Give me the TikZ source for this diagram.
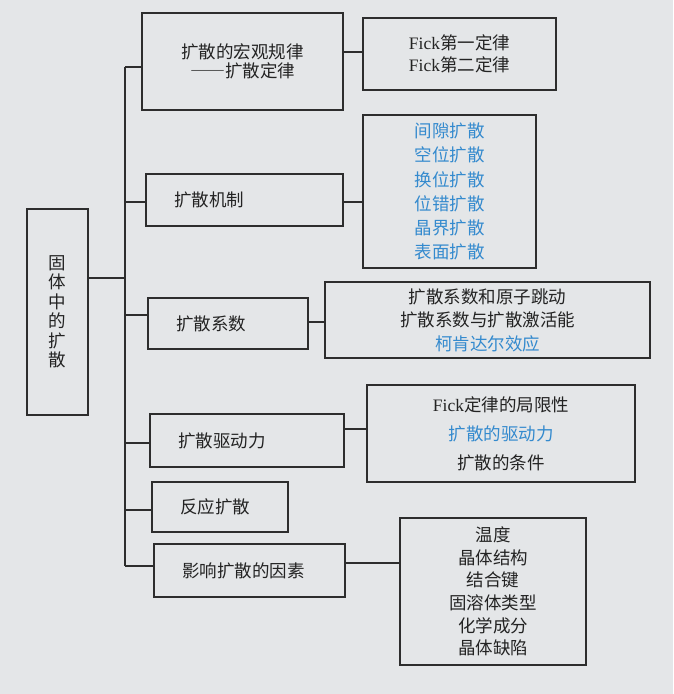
\documentclass[tikz,border=0pt]{standalone}
\usepackage{fontspec}
\setmainfont{Liberation Serif}
\newfontfamily\cjk{Noto Sans CJK SC}
\newfontfamily\cjkfw[RawFeature=+fwid]{Noto Sans CJK SC}
\definecolor{bg}{RGB}{228,230,232}
\definecolor{ln}{RGB}{45,45,45}
\definecolor{bl}{RGB}{52,138,206}
\definecolor{tx}{RGB}{35,35,35}
\begin{document}
\begin{tikzpicture}[x=1pt,y=-1pt,
  box/.style={draw=ln, line width=1.5pt, inner sep=0pt, text=tx,
    font=\cjk\fontsize{17.5}{19.5}\selectfont},
  lbox/.style={box, align=left, inner xsep=28pt},
  cbox/.style={box, align=center},
  conn/.style={draw=ln, line width=1.1pt}]
\fill[bg] (0,0) rectangle (673,694);
\useasboundingbox (0,0) rectangle (673,694);

% root
\node[box, minimum width=61pt, minimum height=206pt, align=center,
  font=\cjk\fontsize{17.5}{19.5}\selectfont] (root) at (57.5,312)
  {固\\体\\中\\的\\扩\\散};

% level-1 boxes
\node[cbox, minimum width=201pt, minimum height=97pt] (b1) at (242.5,61.5)
  {扩散的宏观规律\\{\cjkfw ——}扩散定律};
\node[lbox, text width=141pt, minimum height=52pt] (b2) at (244.5,200) {扩散机制};
\node[lbox, text width=104pt, minimum height=51pt] (b3) at (228,323.5) {扩散系数};
\node[lbox, text width=138pt, minimum height=53pt] (b4) at (247,440.5) {扩散驱动力};
\node[lbox, text width=80pt, minimum height=50pt] (b5) at (220,507) {反应扩散};
\node[lbox, text width=135pt, minimum height=53pt] (b6) at (249.5,570.5) {影响扩散的因素};

% level-2 boxes
\node[cbox, minimum width=193pt, minimum height=72pt,
  font=\cjk\fontsize{17.5}{22}\selectfont] (r1) at (459.5,54)
  {{\rmfamily Fick}第一定律\\{\rmfamily Fick}第二定律};
\node[cbox, minimum width=173pt, minimum height=153pt, text=bl,
  font=\cjk\fontsize{17.5}{24.2}\selectfont] (r2) at (449.5,191.5)
  {间隙扩散\\空位扩散\\换位扩散\\位错扩散\\晶界扩散\\表面扩散};
\node[cbox, minimum width=325pt, minimum height=76pt,
  font=\cjk\fontsize{17.5}{23.5}\selectfont] (r3) at (487.5,320)
  {扩散系数和原子跳动\\扩散系数与扩散激活能\\\textcolor{bl}{柯肯达尔效应}};
\node[cbox, minimum width=268pt, minimum height=97pt,
  font=\cjk\fontsize{17.5}{29}\selectfont] (r4) at (501,433.5)
  {{\rmfamily Fick}定律的局限性\\\textcolor{bl}{扩散的驱动力}\\扩散的条件};
\node[cbox, minimum width=186pt, minimum height=147pt,
  font=\cjk\fontsize{17.5}{22.6}\selectfont] (r5) at (493,591.5)
  {温度\\晶体结构\\结合键\\固溶体类型\\化学成分\\晶体缺陷};

% trunk
\coordinate (t0) at (125,278);
\coordinate (t1) at (125,67);
\coordinate (t2) at (125,202);
\coordinate (t3) at (125,315);
\coordinate (t4) at (125,443);
\coordinate (t5) at (125,510);
\coordinate (t6) at (125,566);
\draw[conn] (t1) -- (t6);
\draw[conn] (root.east |- t0) -- (t0);
\draw[conn] (t1) -- (t1 -| b1.west);
\draw[conn] (t2) -- (t2 -| b2.west);
\draw[conn] (t3) -- (t3 -| b3.west);
\draw[conn] (t4) -- (t4 -| b4.west);
\draw[conn] (t5) -- (t5 -| b5.west);
\draw[conn] (t6) -- (t6 -| b6.west);

% right connectors
\coordinate (c1) at (0,52);
\coordinate (c2) at (0,202);
\coordinate (c3) at (0,322);
\coordinate (c4) at (0,429);
\coordinate (c6) at (0,563);
\draw[conn] (c1 -| b1.east) -- (c1 -| r1.west);
\draw[conn] (c2 -| b2.east) -- (c2 -| r2.west);
\draw[conn] (c3 -| b3.east) -- (c3 -| r3.west);
\draw[conn] (c4 -| b4.east) -- (c4 -| r4.west);
\draw[conn] (c6 -| b6.east) -- (c6 -| r5.west);
\end{tikzpicture}
\end{document}
